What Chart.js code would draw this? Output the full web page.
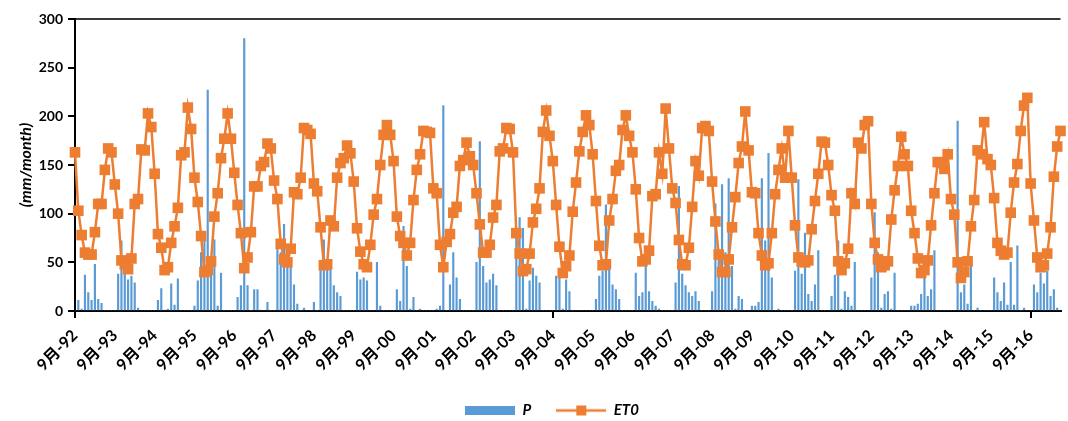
<!DOCTYPE html>
<html lang="zh">
<head>
<meta charset="UTF-8">
<title>P / ET0</title>
<style>
    html, body { margin:0; padding:0; background:#fff; }
    #wrap { width:1068px; height:421px; }
</style>
</head>
<body>
<div id="wrap"><canvas id="myc" width="1068" height="421"></canvas></div>

<script src="https://cdn.jsdelivr.net/npm/chart.js"></script>
<script>
// first month of the series: September 1992
const startYear = 1992;
const startMonth = 9;

// monthly precipitation (mm/month), one row per year Sep..Aug
const P = [
    0, 11, 2, 37, 19, 11, 48, 12, 8, 0, 0, 0,
    0, 38, 72, 40, 32, 36, 29, 3, 0, 0, 0, 0,
    0, 11, 23, 1, 2, 28, 6, 33, 0, 0, 0, 0,
    5, 31, 60, 75, 227, 40, 73, 5, 39, 0, 0, 0,
    0, 14, 26, 280, 26, 0, 22, 22, 1, 0, 9, 0,
    0, 70, 60, 89, 60, 48, 27, 7, 0, 3, 0, 0,
    9, 0, 46, 73, 50, 46, 26, 19, 15, 0, 0, 0,
    0, 40, 32, 34, 31, 0, 0, 50, 5, 0, 0, 0,
    0, 22, 10, 87, 46, 2, 14, 0, 2, 0, 0, 0,
    0, 2, 5, 211, 0, 27, 60, 34, 12, 0, 0, 0,
    0, 50, 174, 46, 29, 32, 38, 26, 0, 0, 0, 0,
    0, 79, 96, 85, 2, 31, 44, 36, 29, 0, 0, 0,
    0, 36, 34, 2, 32, 20, 0, 0, 0, 0, 0, 0,
    0, 12, 36, 41, 109, 50, 27, 22, 12, 0, 0, 0,
    0, 39, 15, 19, 48, 20, 10, 5, 2, 0, 0, 0,
    0, 29, 128, 38, 26, 19, 15, 20, 10, 0, 0, 0,
    20, 110, 56, 130, 60, 136, 46, 2, 15, 12, 0, 0,
    5, 5, 9, 136, 72, 162, 34, 0, 2, 0, 0, 0,
    0, 41, 135, 38, 80, 17, 10, 27, 62, 0, 0, 0,
    15, 37, 72, 2, 20, 14, 5, 50, 0, 0, 0, 0,
    34, 101, 60, 3, 17, 20, 2, 39, 0, 0, 0, 0,
    5, 5, 7, 17, 44, 15, 22, 62, 0, 0, 0, 0,
    0, 0, 195, 19, 27, 7, 56, 0, 3, 0, 0, 0,
    0, 34, 19, 10, 29, 6, 50, 6, 67, 0, 3, 0,
    0, 27, 19, 39, 28, 41, 15, 22, 3, 0
];

// monthly reference evapotranspiration (mm/month)
const ET0 = [
    163, 103, 78, 60, 58, 58, 81, 110, 110, 145, 167, 163,
    130, 100, 52, 48, 43, 54, 110, 115, 166, 165, 203, 189,
    141, 79, 65, 42, 45, 70, 87, 106, 160, 163, 209, 187,
    137, 112, 77, 40, 42, 51, 97, 121, 157, 177, 203, 177,
    142, 109, 80, 44, 55, 81, 128, 128, 149, 153, 172, 167,
    134, 115, 69, 53, 50, 64, 122, 120, 137, 188, 186, 182,
    131, 123, 86, 47, 48, 93, 87, 137, 152, 157, 170, 162,
    133, 85, 61, 48, 45, 68, 99, 115, 150, 181, 191, 181,
    154, 97, 77, 70, 57, 70, 114, 145, 161, 185, 184, 183,
    126, 121, 68, 45, 71, 79, 101, 107, 149, 155, 173, 159,
    150, 121, 89, 60, 60, 68, 96, 109, 164, 167, 188, 187,
    163, 80, 59, 41, 43, 59, 91, 105, 126, 184, 206, 180,
    154, 109, 66, 39, 46, 57, 102, 132, 164, 184, 201, 191,
    161, 113, 67, 47, 48, 93, 115, 144, 150, 186, 201, 180,
    163, 125, 75, 51, 53, 62, 118, 120, 163, 141, 208, 167,
    126, 111, 73, 48, 47, 65, 107, 154, 139, 188, 190, 185,
    133, 92, 58, 40, 40, 53, 86, 117, 152, 169, 205, 165,
    122, 121, 80, 57, 47, 49, 80, 120, 145, 167, 137, 185,
    137, 88, 55, 51, 50, 52, 84, 113, 141, 174, 173, 150,
    119, 103, 51, 42, 49, 64, 121, 110, 173, 167, 191, 195,
    110, 70, 53, 45, 47, 51, 94, 124, 149, 179, 161, 149,
    103, 80, 54, 39, 42, 52, 88, 121, 153, 152, 146, 161,
    115, 99, 50, 34, 40, 51, 87, 114, 165, 161, 194, 156,
    150, 116, 70, 62, 58, 60, 101, 132, 151, 185, 211, 219,
    131, 93, 55, 45, 47, 59, 86, 138, 169, 185
];

const yTicks = [0, 50, 100, 150, 200, 250, 300];
const seriesNames = ['P', 'ET0'];

// month labels like 9月-92
const months = [];
for (let i = 0; i < ET0.length; i++) {
    const m = (startMonth - 1 + i) % 12 + 1;
    const y = startYear + Math.floor((startMonth - 1 + i) / 12);
    months.push(m + '月-' + String(y % 100).padStart(2, '0'));
}

const blue = '#5B9BD5';
const orange = '#ED7D31';
const fontFam = "Lato, 'Noto Sans CJK SC', sans-serif";

// legend icons
function pIcon() {
    const c = document.createElement('canvas');
    c.width = 50; c.height = 9;
    const g = c.getContext('2d');
    g.fillStyle = blue;
    g.fillRect(0, 0, 50, 9);
    return c;
}
function etIcon() {
    const c = document.createElement('canvas');
    c.width = 50; c.height = 12;
    const g = c.getContext('2d');
    g.strokeStyle = orange;
    g.lineWidth = 2.5;
    g.beginPath(); g.moveTo(0, 6); g.lineTo(50, 6); g.stroke();
    g.fillStyle = orange;
    g.fillRect(20, 1, 10, 10);
    return c;
}
const icons = [pIcon(), etIcon()];

// nudge the legend a bit right and down, like the original
const legendShift = {
    id: 'legendShift',
    afterLayout: function(chart) {
        const l = chart.legend;
        l.left += 18; l.right += 18;
        l.top += 7; l.bottom += 7;
    }
};

const ctx = document.getElementById('myc').getContext('2d');
const myChart = new Chart(ctx, {
    type: 'bar',
    data: {
        labels: months,
        datasets: [{
            type: 'bar',
            label: seriesNames[0],
            data: P,
            backgroundColor: blue,
            barThickness: 1.5,
            order: 2
        }, {
            type: 'line',
            label: seriesNames[1],
            data: ET0,
            borderColor: orange,
            borderWidth: 2.5,
            backgroundColor: orange,
            pointStyle: 'rect',
            pointRadius: 7.5,
            pointBorderWidth: 0,
            pointBackgroundColor: orange,
            tension: 0,
            clip: false,
            order: 1
        }]
    },
    plugins: [legendShift],
    options: {
        responsive: false,
        animation: false,
        devicePixelRatio: 1,
        layout: { padding: { top: 19, right: 0, left: 0, bottom: 0 } },
        plugins: {
            tooltip: { enabled: false },
            legend: {
                position: 'bottom',
                labels: {
                    usePointStyle: true,
                    pointStyleWidth: 50,
                    boxHeight: 12,
                    padding: 25,
                    color: '#000',
                    font: { family: fontFam, size: 15, weight: 'bold', style: 'italic' },
                    generateLabels: function(chart) {
                        return seriesNames.map(function(n, i) {
                            return { text: n, pointStyle: icons[i], fillStyle: i ? orange : blue,
                                     strokeStyle: 'transparent', lineWidth: 0, datasetIndex: i, hidden: false };
                        });
                    }
                }
            }
        },
        scales: {
            x: {
                type: 'category',
                offset: false,
                border: { color: '#000', width: 2 },
                grid: {
                    offset: false,
                    drawOnChartArea: false,
                    lineWidth: 2,
                    tickLength: 7,
                    color: function(c) { return c.index % 12 === 0 ? '#000' : 'transparent'; },
                    tickColor: function(c) { return c.index % 12 === 0 ? '#000' : 'transparent'; }
                },
                ticks: {
                    autoSkip: false,
                    minRotation: 45,
                    maxRotation: 45,
                    padding: 8,
                    color: '#000',
                    font: { family: fontFam, size: 16, weight: 'bold' },
                    callback: function(v, i) { return i % 12 === 0 ? months[i] : null; }
                },
                afterFit: function(s) { s.height = 60; }
            },
            y: {
                min: 0,
                max: 300,
                border: { color: '#000', width: 2 },
                afterBuildTicks: function(s) { s.ticks = yTicks.map(function(v) { return { value: v }; }); },
                grid: {
                    lineWidth: 2,
                    tickLength: 7,
                    tickColor: '#000',
                    color: function(c) { return c.tick && c.tick.value === 300 ? '#3a3a3a' : 'transparent'; }
                },
                ticks: {
                    color: '#000',
                    padding: 5,
                    font: { family: fontFam, size: 14, weight: 'bold' }
                },
                title: {
                    display: true,
                    text: '(mm/month)',
                    color: '#000',
                    padding: { top: 16, bottom: 0 },
                    font: { family: fontFam, size: 16, weight: 'bold', style: 'italic' }
                },
                afterFit: function(s) { s.width = 75; }
            }
        }
    }
});
</script>
</body>
</html>
